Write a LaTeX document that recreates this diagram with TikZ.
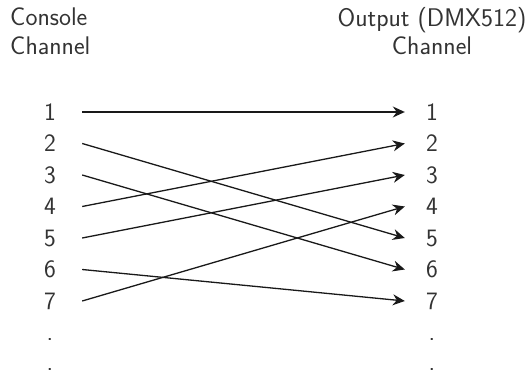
\documentclass[tikz,border=0pt]{standalone}
\usetikzlibrary{arrows.meta}
\begin{document}
\begin{tikzpicture}[x=1pt,y=-1pt,
  chan/.style={inner sep=0pt, font=\sffamily\fontsize{25}{29}\selectfont, text=black!80},
  leftnum/.style={chan, minimum width=64pt},
  rightnum/.style={chan, minimum width=54pt},
  head/.style={inner sep=0pt, font=\sffamily\fontsize{25.5}{30}\selectfont, text=black!80},
  route/.style={line width=1.3pt, black!90, -{Stealth[length=12pt,width=11pt,inset=4pt]}}]
  \useasboundingbox (0,0) rectangle (527,374);

  % column headings
  \node[head, anchor=base west] (hl1) at (10,26) {Console};
  \node[head, anchor=base west] (hl2) at (10,55) {Channel};
  \node[head, anchor=base] (hr1) at (432,27) {Output (DMX512)};
  \node[head, anchor=base] (hr2) at (432,55) {Channel};

  % channel numbers
  \foreach \i in {1,...,7} {
    \node[leftnum]  (L\i) at (50,{112+31.5*(\i-1)}) {\i};
    \node[rightnum] (R\i) at (432,{112+31.5*(\i-1)}) {\i};
  }
  \node[chan, anchor=base] (Ld1) at (50,340.5) {.};
  \node[chan, anchor=base] (Ld2) at (50,370.5) {.};
  \node[chan, anchor=base] (Rd1) at (432,340.5) {.};
  \node[chan, anchor=base] (Rd2) at (432,370.5) {.};

  % patch routing
  \draw[route] (L1.east) -- (R1.west);
  \draw[route] (L2.east) -- (R5.west);
  \draw[route] (L3.east) -- (R6.west);
  \draw[route] (L4.east) -- (R2.west);
  \draw[route] (L5.east) -- (R3.west);
  \draw[route] (L6.east) -- (R7.west);
  \draw[route] (L7.east) -- (R4.west);
\end{tikzpicture}
\end{document}
